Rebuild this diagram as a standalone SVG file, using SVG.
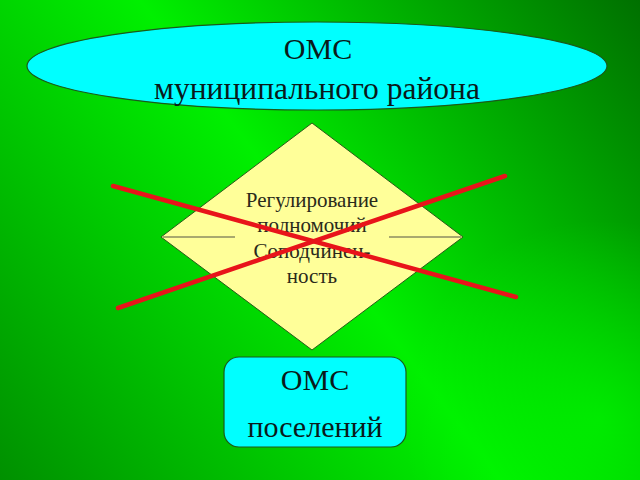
<svg xmlns="http://www.w3.org/2000/svg" width="640" height="480" viewBox="0 0 640 480">
<defs>
<linearGradient id="bg" gradientUnits="userSpaceOnUse" x1="640" y1="0" x2="0" y2="480">
<stop offset="0" stop-color="#007000"/>
<stop offset="0.25" stop-color="#00b000"/>
<stop offset="0.5" stop-color="#00f000"/>
<stop offset="0.75" stop-color="#00c000"/>
<stop offset="1" stop-color="#009000"/>
</linearGradient>
<radialGradient id="glow" gradientUnits="userSpaceOnUse" cx="600" cy="420" r="200">
<stop offset="0" stop-color="#00ff00" stop-opacity="0.6"/>
<stop offset="1" stop-color="#00ff00" stop-opacity="0"/>
</radialGradient>
</defs>
<style>
.t{font-family:"Liberation Serif","Times New Roman",serif;fill:#0a1a1a;text-anchor:middle}
.big{font-size:30px}
.wide{font-size:31.5px}
.small{font-size:21px;fill:#2a2a1a}
.cyan{fill:#00ffff;stroke:#1a5a1a;stroke-width:1.2}
.cross{stroke:#e8141a;stroke-width:4.5;stroke-linecap:round}
.sep{stroke:#555544;stroke-width:1.2}
</style>
<rect width="640" height="480" fill="url(#bg)"/>
<rect width="640" height="480" fill="url(#glow)"/>
<g id="omc-district">
<ellipse class="cyan" cx="317" cy="66" rx="290" ry="44"/>
<text class="t big" x="318" y="59">ОМС</text>
<text class="t wide" x="317" y="99">муниципального района</text>
</g>
<g id="relation">
<polygon points="312,123 463,237 312,350 161,237" fill="#ffff99" stroke="#2a5a1a" stroke-width="1"/>
<line class="sep" x1="163" y1="237" x2="235" y2="237"/>
<line class="sep" x1="389" y1="237" x2="461" y2="237"/>
<text class="t small" x="312" y="207">Регулирование</text>
<text class="t small" x="312" y="232">полномочий</text>
<text class="t small" x="312" y="258">Соподчинен-</text>
<text class="t small" x="312" y="283">ность</text>
</g>
<g id="omc-settlements">
<rect class="cyan" x="224" y="357" width="182" height="90" rx="15"/>
<text class="t big" x="315" y="390">ОМС</text>
<text class="t big" x="315" y="437">поселений</text>
</g>
<g id="connectors">
<line class="cross" x1="113" y1="186" x2="516" y2="297"/>
<line class="cross" x1="118" y1="308" x2="505" y2="176"/>
</g>
</svg>
